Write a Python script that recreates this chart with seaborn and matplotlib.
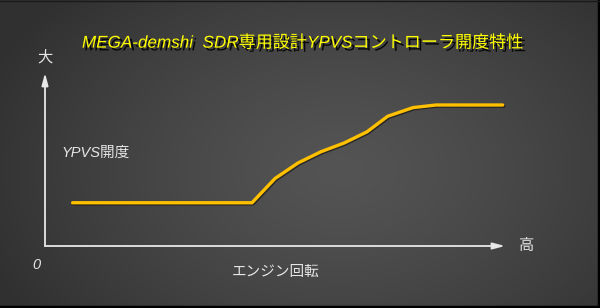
import numpy as np
import matplotlib
matplotlib.use("Agg")
import matplotlib.pyplot as plt
import matplotlib.patheffects as pe
import seaborn as sns

# Data (engine speed % of range, YPVS opening %)
rpm = [6, 45, 50, 55, 60, 65, 70, 74.5, 80, 85, 99.5]
opening = [25, 25, 39, 48, 54.5, 59.5, 66, 75, 80, 81.5, 81.5]

title = "MEGA-demshi  SDR専用設計YPVSコントローラ開度特性"
y_label = "YPVS開度"
x_label = "エンジン回転"
y_top = "大"
x_right = "高"
origin = "0"

sns.set_theme(style="white")
plt.rcParams['font.family'] = ['Liberation Sans', 'Noto Sans CJK JP', 'DejaVu Sans']

W, H = 600, 308
fig = plt.figure(figsize=(W / 100, H / 100), dpi=100)

# background gradient
bg = fig.add_axes([0, 0, 1, 1])
yy, xx = np.mgrid[0:H, 0:W]
r = np.sqrt(((xx - 340) / 380.0) ** 2 + ((yy - 170) / 260.0) ** 2)
val = (84 - 36 * np.clip(r, 0, 1) ** 1.3) / 255.0
img = np.dstack([val, val, val])
bg.imshow(img, extent=[0, W, H, 0], aspect='auto', interpolation='bilinear')
bg.set_xlim(0, W)
bg.set_ylim(H, 0)
bg.axis('off')
# dark border right/bottom
bg.plot([W - 1, W - 1], [0, H], color='black', lw=2.5)
bg.plot([0, W], [H - 1, H - 1], color='black', lw=2.5)
bg.plot([0, W], [0.5, 0.5], color='#1a1a1a', lw=1)

def px(x, y):
    return x / W, 1 - y / H

left, right, top, bottom = 45, 505, 73, 246
ax = fig.add_axes([left / W, (H - bottom) / H, (right - left) / W, (bottom - top) / H])
ax.patch.set_alpha(0)
for s in ax.spines.values():
    s.set_visible(False)
ax.set_xlim(0, 100)
ax.set_ylim(0, 100)
ax.set_xticks([])
ax.set_yticks([])
ax.set_xlabel("")
ax.set_ylabel("")

sns.lineplot(x=rpm, y=opening, ax=ax, color='#FFC000', linewidth=2.4,
             solid_capstyle='round', solid_joinstyle='miter',
             path_effects=[pe.SimpleLineShadow(offset=(0.8, -0.8), shadow_color='black', alpha=0.5),
                           pe.Normal()])
for l in ax.lines:
    l.set_clip_on(False)

axis_col = '#e8e8e8'
ax.annotate("", xy=(1, 0), xytext=(0, 0), xycoords='axes fraction',
            arrowprops=dict(arrowstyle='-|>,head_length=0.6,head_width=0.16', color=axis_col, lw=1.3,
                            shrinkA=0, shrinkB=0))
ax.annotate("", xy=(0, 1), xytext=(0, 0), xycoords='axes fraction',
            arrowprops=dict(arrowstyle='-|>,head_length=0.6,head_width=0.16', color=axis_col, lw=1.3,
                            shrinkA=0, shrinkB=0))

txt_col = '#e6e6e6'
fig.text(*px(303, 43), title, ha='center', va='center', fontsize=12.3, style='italic',
         color='#FFFF00',
         path_effects=[pe.withSimplePatchShadow(offset=(2, -2), shadow_rgbFace='black', alpha=0.9)])
fig.text(*px(45, 57), y_top, ha='center', va='center', fontsize=11, color=txt_col)
fig.text(*px(96, 153), y_label, ha='center', va='center', fontsize=10.5, style='italic', color=txt_col)
fig.text(*px(36, 265), origin, ha='center', va='center', fontsize=10.5, style='italic', color=txt_col)
fig.text(*px(276, 272), x_label, ha='center', va='center', fontsize=10.5, style='italic', color=txt_col)
fig.text(*px(527, 246), x_right, ha='center', va='center', fontsize=11, color=txt_col)

fig.savefig("out.png", dpi=100)
